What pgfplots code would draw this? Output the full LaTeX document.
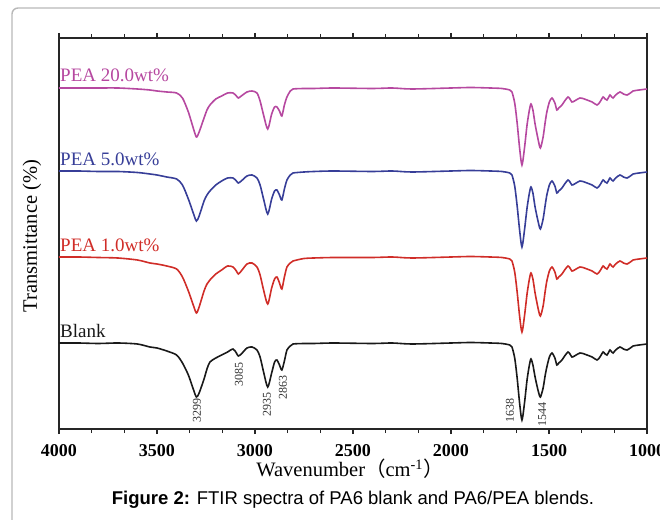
\documentclass[border=0pt]{standalone}
\usepackage{fontspec}
\setmainfont{Liberation Serif}
\newfontfamily\capfont{Liberation Sans}
\newfontfamily\cjk{Noto Sans CJK SC}
\usepackage{pgfplots}
\pgfplotsset{compat=1.18}
\usepackage{pgfplotstable}

\definecolor{cblack}{RGB}{25,25,25}
\definecolor{cred}{RGB}{208,45,40}
\definecolor{cblue}{RGB}{55,62,152}
\definecolor{cpink}{RGB}{182,72,160}

% wavenumber, then the four spectra (offset, arbitrary units)
\pgfplotstableread{
x     blank  pea1   pea5   pea20
4000  86     172    258    341
3900  86     172    258    341
3800  85.5   171.5  257.5  341
3700  86     171    257.5  341
3600  85     169    256.5  340
3536  82     166    255    339
3500  81     165    254    338
3450  78     163    252    337
3400  74     160    250    336
3370  66     152    244    331
3340  54     138    230    317
3315  40     124    216    301
3299  32     116    208    292
3285  36     122    213    297
3260  50     138    228    311
3245  60     145    234    319
3230  67     149    238    324
3200  71     155    244    330
3170  74     159    248    333
3140  77     163    251    336
3112  80     162    251    336
3095  76     158    248    333
3085  73     155    246    331
3070  75     158    248    333
3041  81     165    253    337
3015  82     166    254    338
2990  79     162    251    336
2974  72     154    244    328
2955  56     138    229    313
2935  42     125    215    300
2915  56     141    230    315
2900  67     150    238    322
2888  69     152    239    322
2875  64     146    234    318
2863  59     140    229    313
2850  68     152    240    324
2837  79     162    249    332
2820  83     166    254    338
2806  85     168    256    340
2750  85.5   170.5  257    340.5
2700  85.5   171    257.5  340.5
2600  86     171.5  258    341
2400  85.5   171.5  257.5  340.5
2300  86     172    258    341
2200  85     171    257    340
2000  86     172    258    341
1900  86.5   172.5  258.5  341.5
1800  86     172    258    341
1740  85.5   171.5  257.5  340.5
1700  84     170    256    339
1689  82     168    254    337
1675  71     157    243    326
1663  52     138    224    307
1650  26     113    199    281
1638  9      97     182    264
1625  26     113    199    281
1612  49     135    221    304
1600  64     150    236    319
1592  70     156    242    325
1582  64     150    236    319
1571  52     136    222    305
1555  38     120    207    289
1544  32     113    200    281
1530  41     123    210    292
1520  53     137    223    306
1511  62     148    234    317
1498  72     158    244    327
1485  76     162    248    331
1470  71     157    243    326
1460  64     150    236    319
1450  66     152    238    321
1434  69     155    241    324
1420  73     159    245    328
1403  77     163    249    332
1393  75     161    247    330
1383  72     158    244    327
1370  73     159    245    328
1342  76     162    248    331
1320  75     161    247    330
1306  74     160    246    329
1280  72     158    244    327
1255  69     155    241    324
1240  72     158    244    327
1224  77     163    249    332
1214  75     161    247    330
1204  74     160    246    329
1195  77     163    249    332
1189  79     165    251    334
1180  77     163    249    332
1173  76     162    248    331
1160  79     165    251    334
1138  82     168    254    337
1120  80     166    252    335
1102  79     165    251    334
1085  81     167    253    336
1071  83     169    255    338
1040  84     170    256    339
1000  85     171    257    340
}\spectra

\begin{document}
\begin{tikzpicture}
\useasboundingbox (0pt,0pt) rectangle (660pt,519pt);
% outer panel frame
\draw[black!28, line width=1.4pt, rounded corners=6pt] (12pt,-20pt) -- (12pt,511pt) -- (690pt,511pt);

\begin{axis}[
  at={(59pt,90pt)}, anchor=south west,
  scale only axis, width=588pt, height=391pt,
  xmin=1000, xmax=4000, x dir=reverse,
  ymin=0, ymax=391,
  ytick=\empty,
  xtick={1000,1500,2000,2500,3000,3500,4000},
  minor x tick num=2,
  tick align=outside,
  major tick length=5pt, minor tick length=4pt,
  axis line style={line width=1.4pt, black!85},
  every tick/.style={line width=1.2pt, black!85},
  /pgf/number format/1000 sep={},
  /pgf/number format/assume math mode=true,
  xticklabel style={font=\fontsize{18}{18}\selectfont\bfseries, yshift=-7pt},
  clip mode=individual,
  every axis plot/.append style={line width=1.6pt, smooth, tension=0.45},
]
\addplot[cblack] table[x=x, y=blank] {\spectra};
\addplot[cred]   table[x=x, y=pea1]  {\spectra};
\addplot[cblue]  table[x=x, y=pea5]  {\spectra};
\addplot[cpink]  table[x=x, y=pea20] {\spectra};

\begin{scope}[every node/.style={inner sep=0pt, anchor=south west, font=\fontsize{19}{19}\selectfont}]
\node[text=cpink]  at (axis cs:4000,347) {\hspace{1pt}PEA 20.0wt\%};
\node[text=cblue]  at (axis cs:4000,263) {\hspace{1pt}PEA 5.0wt\%};
\node[text=cred]   at (axis cs:4000,177) {\hspace{1pt}PEA 1.0wt\%};
\node[text=cblack] at (axis cs:4000,91)  {\hspace{1pt}Blank};
\end{scope}

\begin{scope}[every node/.style={inner sep=0pt, rotate=90, anchor=east, text=black!80, font=\fontsize{12}{12}\selectfont}]
\node at (axis cs:3296,31) {3299};
\node at (axis cs:3082,67) {3085};
\node at (axis cs:2939,37) {2935};
\node at (axis cs:2857,54) {2863};
\node at (axis cs:1699,31) {1638};
\node at (axis cs:1535,27) {1544};
\end{scope}
\end{axis}

\node[rotate=90, font=\fontsize{20.5}{20.5}\selectfont] at (32pt,283pt) {Transmittance (\%)};
\node[font=\fontsize{20.5}{20.5}\selectfont] at (350pt,50pt) {Wavenumber{\cjk （}cm\textsuperscript{-1}{\cjk ）}};
\node[font=\capfont\fontsize{18.5}{18.5}\selectfont] at (353pt,19pt) {\textbf{Figure 2:} FTIR spectra of PA6 blank and PA6/PEA blends.};
\end{tikzpicture}
\end{document}
